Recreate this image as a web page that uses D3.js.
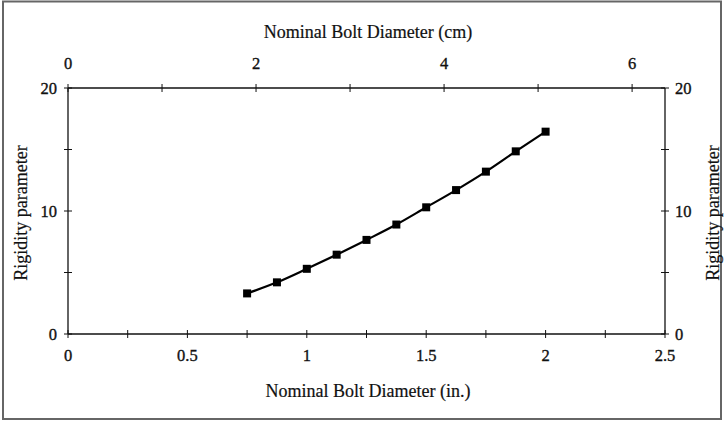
<!DOCTYPE html>
<html><head><meta charset="utf-8">
<script src="https://cdn.jsdelivr.net/npm/d3@7"></script>
<style>body{margin:0;background:#fff}svg{display:block}text{font-family:"Liberation Serif","Times New Roman",serif;fill:#111}</style>
</head><body>
<script>
const diameterIn = [0.75, 0.875, 1.0, 1.125, 1.25, 1.375, 1.5, 1.625, 1.75, 1.875, 2.0];
const rigidity = [3.3, 4.2, 5.3, 6.45, 7.65, 8.9, 10.3, 11.7, 13.2, 14.85, 16.45];
const bottomTicks = [0, 0.5, 1, 1.5, 2, 2.5];
const bottomMinor = [0.25, 0.75, 1.25, 1.75, 2.25];
const topTicks = [0, 2, 4, 6];
const topMinor = [1, 3, 5];
const yTicks = [0, 10, 20];
const yMinor = [5, 15];

const W = 724, H = 422;
const svg = d3.select("body").append("svg").attr("width", W).attr("height", H);
svg.append("rect").attr("x",3).attr("y",1.5).attr("width",718).attr("height",417.5)
  .attr("fill","none").attr("stroke","#666").attr("stroke-width",2);

const x = d3.scaleLinear().domain([0, 2.5]).range([68, 665]);
const xcm = d3.scaleLinear().domain([0, 2.5 * 2.54]).range([68, 665]);
const y = d3.scaleLinear().domain([0, 20]).range([334, 88]);

const g = svg.append("g");
const ax = "#111";
g.append("line").attr("x1",x(0)).attr("x2",x(2.5)).attr("y1",y(0)).attr("y2",y(0)).attr("stroke",ax).attr("stroke-width",1.3);
g.append("line").attr("x1",x(0)).attr("x2",x(2.5)).attr("y1",y(20)).attr("y2",y(20)).attr("stroke",ax).attr("stroke-width",1.3);
g.append("line").attr("x1",x(0)).attr("x2",x(0)).attr("y1",y(0)).attr("y2",y(20)).attr("stroke",ax).attr("stroke-width",1.3);
g.append("line").attr("x1",x(2.5)).attr("x2",x(2.5)).attr("y1",y(0)).attr("y2",y(20)).attr("stroke",ax).attr("stroke-width",1.3);

const tk = 4;
const lbl = (sel) => sel.attr("font-size",16.5).attr("stroke","#111").attr("stroke-width",0.35);
bottomTicks.concat(bottomMinor).forEach(v => {
  g.append("line").attr("x1",x(v)).attr("x2",x(v)).attr("y1",y(0)-tk).attr("y2",y(0)+tk).attr("stroke",ax);
});
bottomTicks.forEach(v => {
  lbl(g.append("text").attr("x",x(v)).attr("y",361).attr("text-anchor","middle")).text(v);
});
topTicks.concat(topMinor).forEach(v => {
  g.append("line").attr("x1",xcm(v)).attr("x2",xcm(v)).attr("y1",y(20)-tk).attr("y2",y(20)+tk).attr("stroke",ax);
});
topTicks.forEach(v => {
  lbl(g.append("text").attr("x",xcm(v)).attr("y",69).attr("text-anchor","middle")).text(v);
});
yTicks.concat(yMinor).forEach(v => {
  g.append("line").attr("x1",x(0)-tk).attr("x2",x(0)+tk).attr("y1",y(v)).attr("y2",y(v)).attr("stroke",ax);
  g.append("line").attr("x1",x(2.5)-tk).attr("x2",x(2.5)+tk).attr("y1",y(v)).attr("y2",y(v)).attr("stroke",ax);
});
yTicks.forEach(v => {
  lbl(g.append("text").attr("x",57).attr("y",y(v)+6).attr("text-anchor","end")).text(v);
  lbl(g.append("text").attr("x",675).attr("y",y(v)+6).attr("text-anchor","start")).text(v);
});

const ttl = (sel) => sel.attr("font-size",18).attr("stroke","#111").attr("stroke-width",0.2);
ttl(g.append("text").attr("x",368).attr("y",38).attr("text-anchor","middle")).text("Nominal Bolt Diameter (cm)");
ttl(g.append("text").attr("x",368).attr("y",397).attr("text-anchor","middle")).text("Nominal Bolt Diameter (in.)");
ttl(g.append("text").attr("transform","translate(27,"+(y(10)+2)+") rotate(-90)").attr("text-anchor","middle").attr("font-size",19)).text("Rigidity parameter");
ttl(g.append("text").attr("transform","translate(719,"+(y(10)+2)+") rotate(-90)").attr("text-anchor","middle").attr("font-size",19)).text("Rigidity parameter");

const pts = diameterIn.map((d,i) => [d, rigidity[i]]);
const line = d3.line().x(d => x(d[0])).y(d => y(d[1])).curve(d3.curveMonotoneX);
g.append("path").attr("d", line(pts)).attr("fill","none").attr("stroke","#000").attr("stroke-width",2.2);
g.selectAll("rect.m").data(pts).enter().append("rect").attr("class","m")
  .attr("x", d => x(d[0]) - 4).attr("y", d => y(d[1]) - 4).attr("width",8).attr("height",8).attr("fill","#000");
</script>
</body></html>
